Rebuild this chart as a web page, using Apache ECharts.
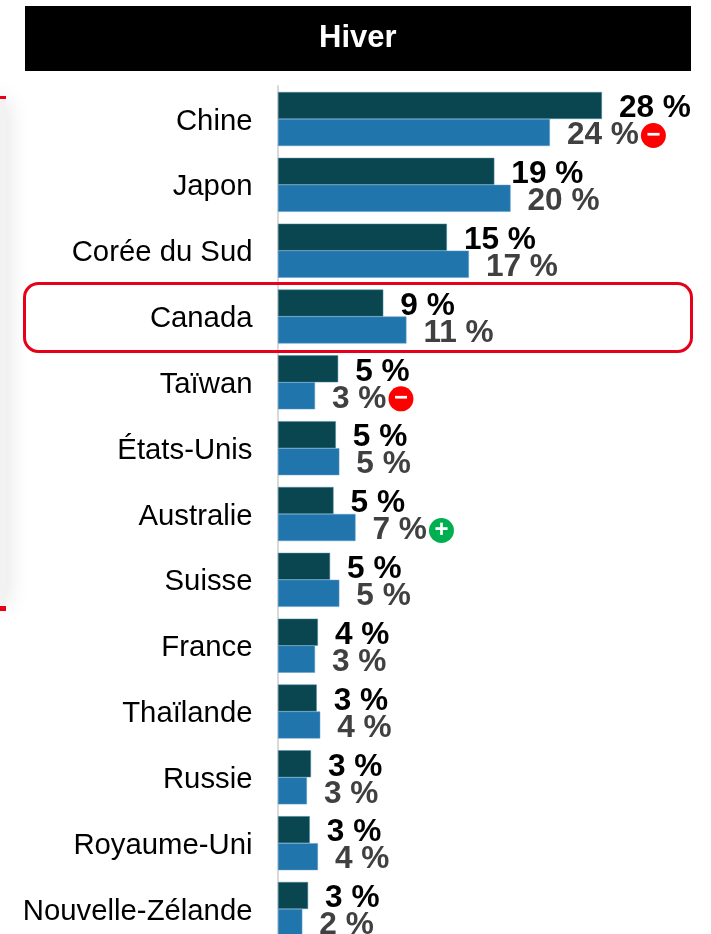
<!DOCTYPE html>
<html><head><meta charset="utf-8">
<style>html,body{margin:0;padding:0;background:#fff;overflow:hidden;height:934px}#c{width:711px;height:950px}</style>
<script src="https://cdn.jsdelivr.net/npm/echarts@6/dist/echarts.min.js"></script>
</head><body><div id="c"></div>
<script>
const titleText = 'Hiver';
const categories = ['Chine','Japon','Corée du Sud','Canada','Taïwan','États-Unis','Australie','Suisse','France','Thaïlande','Russie','Royaume-Uni','Nouvelle-Zélande'];
const darkValues = [28.0,18.7,14.6,9.1,5.2,5.0,4.8,4.5,3.45,3.35,2.85,2.75,2.6];
const blueValues = [23.5,20.1,16.5,11.1,3.2,5.3,6.7,5.3,3.2,3.65,2.5,3.45,2.1];
const darkLabels = ['28 %','19 %','15 %','9 %','5 %','5 %','5 %','5 %','4 %','3 %','3 %','3 %','3 %'];
const blueLabels = ['24 %','20 %','17 %','11 %','3 %','5 %','7 %','5 %','3 %','4 %','3 %','4 %','2 %'];
const blueBadges = ['−','','','','−','','+','','','','','',''];

const chart = echarts.init(document.getElementById('c'), null, {renderer:'canvas'});
const FONT = '"Liberation Sans", Arial, sans-serif';
const badge = {width:25,height:25,borderRadius:12.5,align:'center',verticalAlign:'middle',
  color:'#fff',fontFamily:FONT,fontSize:24,fontWeight:'bold',lineHeight:25};
chart.setOption({
  animation:false,
  backgroundColor:'#fff',
  title:{text:titleText,left:314,top:18,
    textStyle:{color:'#fff',fontFamily:FONT,fontSize:31,fontWeight:'bold'},z:10},
  grid:{left:278,top:86.1,width:416.5,height:855.8,containLabel:false},
  xAxis:{type:'value',min:0,max:36,show:false},
  yAxis:{type:'category',inverse:true,data:categories,
    axisLine:{show:true,lineStyle:{color:'#d9d9d9',width:2}},
    axisTick:{show:false},
    axisLabel:{color:'#000',fontFamily:FONT,fontSize:29.3,margin:25.5,verticalAlign:'top',lineHeight:5}},
  series:[
    {type:'bar',name:'a',data:darkValues,barWidth:27,barGap:0,
      itemStyle:{color:'#0a4650',borderColor:'#4f8fa8',borderWidth:0.5},
      label:{show:true,position:'right',distance:17,offset:[0,3],
        formatter:p=>darkLabels[p.dataIndex],
        color:'#000',fontFamily:FONT,fontSize:31.6,fontWeight:'bold'}},
    {type:'bar',name:'b',data:blueValues,barWidth:27,barGap:0,
      itemStyle:{color:'#2075ad',borderColor:'#5b9bc8',borderWidth:0.5},
      label:{show:true,position:'right',distance:17,offset:[0,3],
        formatter:p=>{
          const t='{v|'+blueLabels[p.dataIndex]+'}';
          const b=blueBadges[p.dataIndex];
          return b==='−'?t+'{s|}{m|'+b+'}':b==='+'?t+'{s|}{p|'+b+'}':t;
        },
        rich:{
          v:{color:'#404040',fontFamily:FONT,fontSize:31.6,fontWeight:'bold'},
          s:{width:2},
          m:Object.assign({},badge,{backgroundColor:'#ff0000'}),
          p:Object.assign({},badge,{backgroundColor:'#00b050'})
        }}}
  ],
  graphic:[
    {type:'rect',z:-1,shape:{x:-40,y:100,width:46,height:505},
      style:{fill:'#f2f2f2',shadowBlur:22,shadowColor:'rgba(0,0,0,0.10)',shadowOffsetX:3}},
    {type:'rect',z:1,shape:{x:0,y:96,width:6,height:3},style:{fill:'#e60019'}},
    {type:'rect',z:1,shape:{x:0,y:606,width:6,height:5},style:{fill:'#e60019'}},
    {type:'rect',z:1,shape:{x:25,y:6,width:666,height:65},style:{fill:'#000'}},
    {type:'rect',z:100,shape:{x:24.5,y:283.5,width:667,height:68,r:14},
      style:{fill:'none',stroke:'#e60019',lineWidth:3}}
  ]
});
</script></body></html>
